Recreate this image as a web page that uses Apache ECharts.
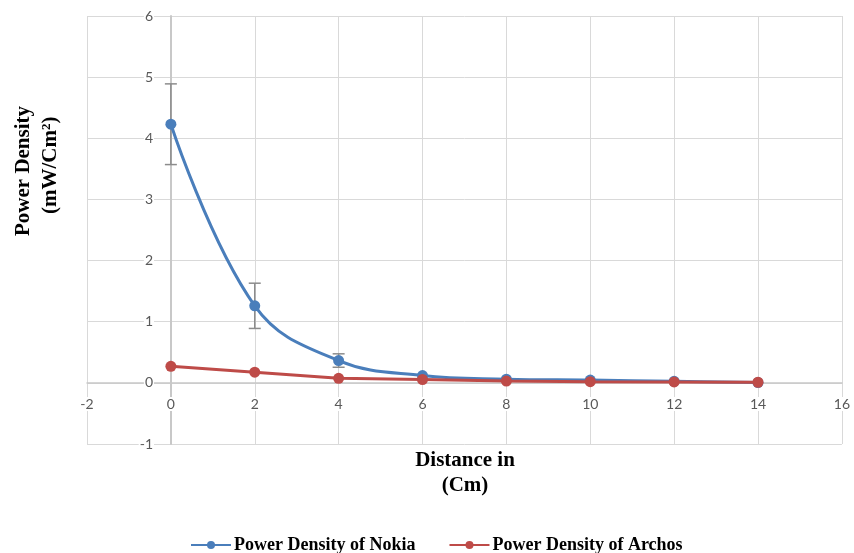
<!DOCTYPE html>
<html>
<head>
<meta charset="utf-8">
<script src="https://cdn.jsdelivr.net/npm/echarts@6/dist/echarts.min.js"></script>
<style>html,body{margin:0;padding:0;background:#fff}#c{width:854px;height:553px}</style>
</head>
<body>
<div id="c"></div>
<script>
var distances = [0, 2, 4, 6, 8, 10, 12, 14];
var nokia = [4.23, 1.26, 0.365, 0.12, 0.06, 0.045, 0.025, 0.005];
var nokiaErr = [0.66, 0.37, 0.11, 0, 0, 0, 0, 0];
var archos = [0.27, 0.175, 0.075, 0.055, 0.03, 0.02, 0.015, 0.01];
var xTicks = { min: -2, max: 16, interval: 2 };
var yTicks = { min: -1, max: 6, interval: 1 };

var chart = echarts.init(document.getElementById('c'));
var tickFont = { color: '#595959', fontSize: 14, fontFamily: 'Lato, "Open Sans", sans-serif', backgroundColor: '#fff', padding: [0, 1] };
var errData = distances.map(function (d, i) { return [d, nokia[i] - nokiaErr[i], nokia[i] + nokiaErr[i]]; })
  .filter(function (r, i) { return nokiaErr[i] > 0; });
var titleFont = '"Liberation Serif", serif';

chart.setOption({
  animation: false,
  grid: { left: 87, right: 12, top: 16, bottom: 109, containLabel: false },
  xAxis: {
    type: 'value', min: xTicks.min, max: xTicks.max, interval: xTicks.interval,
    axisLine: { onZero: true, lineStyle: { color: '#c8c8c8', width: 1.5 } },
    axisTick: { show: false },
    axisLabel: Object.assign({ margin: -47 }, tickFont),
    splitLine: { show: true, lineStyle: { color: '#d9d9d9' } }
  },
  yAxis: {
    type: 'value', min: yTicks.min, max: yTicks.max, interval: yTicks.interval,
    axisLine: { show: true, onZero: true, lineStyle: { color: '#c8c8c8', width: 2 } },
    axisTick: { show: false },
    axisLabel: Object.assign({ margin: -67 }, tickFont),
    splitLine: { show: true, lineStyle: { color: '#d9d9d9' } }
  },
  legend: {
    top: 536, left: 190, padding: 0, itemGap: 33, itemWidth: 40, itemHeight: 10,
    data: ['Power Density of Nokia', 'Power Density of Archos'],
    textStyle: { fontFamily: titleFont, fontWeight: 'bold', fontSize: 18, color: '#000', padding: [0, 0, 0, -2] }
  },
  graphic: [
    { type: 'text', x: 13, y: 236, rotation: Math.PI / 2, style: { text: 'Power Density', font: 'bold 21px ' + titleFont, fill: '#000' } },
    { type: 'text', x: 40, y: 214, rotation: Math.PI / 2, style: {
      text: '(mW/Cm{s|2})', font: 'bold 21px ' + titleFont, fill: '#000',
      rich: { s: { fontSize: 13, fontWeight: 'bold', fontFamily: titleFont, verticalAlign: 'top', padding: [0, 0, 8, 0] } } } },
    { type: 'text', x: 465, y: 461, style: { text: 'Distance in', font: 'bold 21px ' + titleFont, fill: '#000', textAlign: 'center', textVerticalAlign: 'middle' } },
    { type: 'text', x: 465, y: 486, style: { text: '(Cm)', font: 'bold 21px ' + titleFont, fill: '#000', textAlign: 'center', textVerticalAlign: 'middle' } }
  ],
  series: [
    {
      name: 'Power Density of Nokia', type: 'line', smooth: 0.4,
      data: distances.map(function (d, i) { return [d, nokia[i]]; }),
      symbol: 'circle', symbolSize: 11,
      itemStyle: { color: '#4a7ebb' }, lineStyle: { color: '#4a7ebb', width: 3 }, z: 3
    },
    {
      name: 'Power Density of Archos', type: 'line', smooth: false,
      data: distances.map(function (d, i) { return [d, archos[i]]; }),
      symbol: 'circle', symbolSize: 11,
      itemStyle: { color: '#be4b48' }, lineStyle: { color: '#be4b48', width: 3 }, z: 4
    },
    {
      name: 'err', type: 'custom', z: 2,
      data: errData,
      renderItem: function (params, api) {
        var lo = api.coord([api.value(0), api.value(1)]);
        var hi = api.coord([api.value(0), api.value(2)]);
        var w = 6;
        var st = { stroke: '#8c8c8c', lineWidth: 1.5 };
        return { type: 'group', children: [
          { type: 'line', shape: { x1: lo[0], y1: lo[1], x2: hi[0], y2: hi[1] }, style: st },
          { type: 'line', shape: { x1: lo[0] - w, y1: lo[1], x2: lo[0] + w, y2: lo[1] }, style: st },
          { type: 'line', shape: { x1: hi[0] - w, y1: hi[1], x2: hi[0] + w, y2: hi[1] }, style: st }
        ] };
      }
    }
  ]
});
</script>
</body>
</html>
